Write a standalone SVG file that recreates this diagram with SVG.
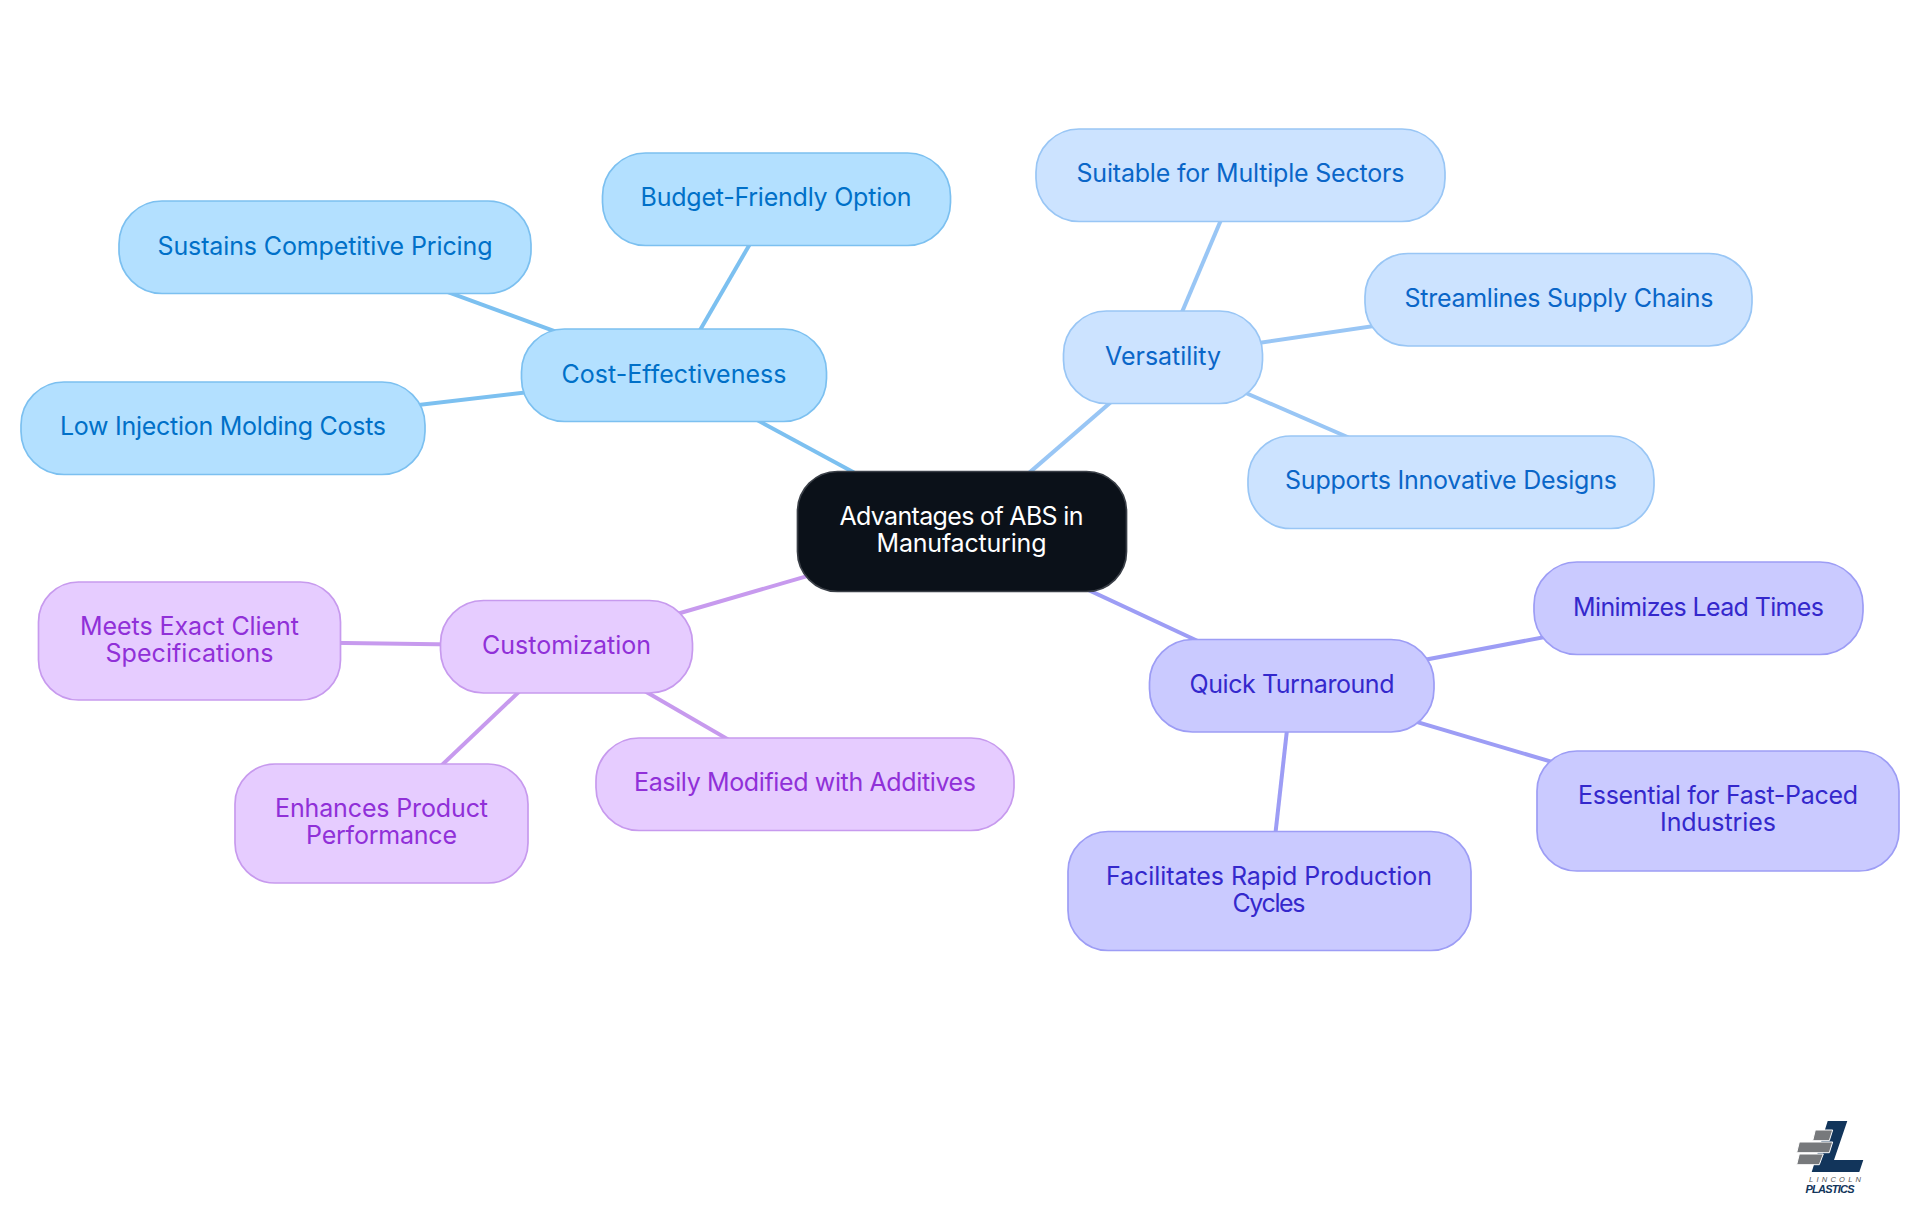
<svg xmlns="http://www.w3.org/2000/svg" width="1920" height="1215" viewBox="0 0 1920 1215">
<style>
text{font-family:"Inter","Noto Sans","Liberation Sans",sans-serif;font-size:25px;font-weight:400;text-anchor:middle}
.n rect{stroke-width:1.7}
.c line{stroke-width:4;fill:none}
.a rect{fill:#b3e0ff;stroke:#7cc0f0}.a text{fill:#0070c8}
.b rect{fill:#cce3ff;stroke:#99c6f5}.b text{fill:#0a66c8}
.q rect{fill:#cacaff;stroke:#9d9df5}.q text{fill:#3428cc}
.p rect{fill:#e6ccff;stroke:#c79aee}.p text{fill:#9030d8}
</style>
<rect width="1920" height="1215" fill="#fff"/>
<g id="connectors" class="c">
<g stroke="#7cc0f0"><line x1="962" y1="531" x2="674" y2="375"/><line x1="674" y1="375" x2="776" y2="199"/><line x1="674" y1="375" x2="325" y2="247"/><line x1="674" y1="375" x2="223" y2="428"/></g>
<g stroke="#99c6f5"><line x1="962" y1="531" x2="1163" y2="357"/><line x1="1163" y1="357" x2="1240" y2="175"/><line x1="1163" y1="357" x2="1559" y2="299"/><line x1="1163" y1="357" x2="1451" y2="482"/></g>
<g stroke="#9d9df5"><line x1="962" y1="531" x2="1292" y2="685"/><line x1="1292" y1="685" x2="1698" y2="608"/><line x1="1292" y1="685" x2="1718" y2="811"/><line x1="1292" y1="685" x2="1269" y2="891"/></g>
<g stroke="#c79aee"><line x1="962" y1="531" x2="567" y2="646"/><line x1="567" y1="646" x2="189" y2="641"/><line x1="567" y1="646" x2="381" y2="823"/><line x1="567" y1="646" x2="805" y2="784"/></g>
</g>
<g id="root" class="n"><rect x="797.5" y="471.5" width="329" height="120" rx="40" fill="#0b1119" stroke="#3a3f47"/><text x="961.5" y="525" fill="#fff" textLength="244">Advantages of ABS in</text><text x="961.5" y="552" fill="#fff" textLength="170">Manufacturing</text></g>
<g id="cost" class="n a"><rect x="521.5" y="329" width="305" height="92.5" rx="43"/><text x="674" y="382.8" textLength="225">Cost-Effectiveness</text></g>
<g id="budget" class="n a"><rect x="602.5" y="153" width="348" height="92.5" rx="43"/><text x="776" y="206.3" textLength="271">Budget-Friendly Option</text></g>
<g id="sustains" class="n a"><rect x="119" y="201" width="412" height="92.5" rx="43"/><text x="325" y="255" textLength="335">Sustains Competitive Pricing</text></g>
<g id="low" class="n a"><rect x="21" y="382" width="404" height="92.5" rx="43"/><text x="223" y="435.3" textLength="326">Low Injection Molding Costs</text></g>
<g id="versatility" class="n b"><rect x="1063.5" y="311" width="199" height="92.5" rx="43"/><text x="1163" y="365" textLength="116">Versatility</text></g>
<g id="suitable" class="n b"><rect x="1036" y="129" width="409" height="92.5" rx="43"/><text x="1240.5" y="182.3" textLength="328">Suitable for Multiple Sectors</text></g>
<g id="streamlines" class="n b"><rect x="1365" y="253.5" width="387" height="92.5" rx="43"/><text x="1559" y="307.3" textLength="309">Streamlines Supply Chains</text></g>
<g id="supports" class="n b"><rect x="1248" y="436" width="406" height="92.5" rx="43"/><text x="1451" y="488.8" textLength="332">Supports Innovative Designs</text></g>
<g id="quick" class="n q"><rect x="1149.5" y="639.5" width="284.5" height="92.5" rx="43"/><text x="1292" y="693.3" textLength="205">Quick Turnaround</text></g>
<g id="minimizes" class="n q"><rect x="1534" y="562" width="329" height="92.5" rx="43"/><text x="1698.5" y="616" textLength="251">Minimizes Lead Times</text></g>
<g id="essential" class="n q"><rect x="1537" y="751" width="362" height="120" rx="40"/><text x="1718" y="804" textLength="280">Essential for Fast-Paced</text><text x="1718" y="831" textLength="116">Industries</text></g>
<g id="facilitates" class="n q"><rect x="1068" y="831.5" width="403" height="119" rx="40"/><text x="1269" y="885" textLength="326">Facilitates Rapid Production</text><text x="1269" y="912" textLength="73">Cycles</text></g>
<g id="customization" class="n p"><rect x="440.5" y="600.5" width="252" height="92.5" rx="43"/><text x="566.5" y="654.3" textLength="169">Customization</text></g>
<g id="meets" class="n p"><rect x="38.5" y="582" width="302" height="118" rx="40"/><text x="189.5" y="635" textLength="219">Meets Exact Client</text><text x="189.5" y="662" textLength="168">Specifications</text></g>
<g id="enhances" class="n p"><rect x="235" y="764" width="293" height="119" rx="40"/><text x="381.5" y="817" textLength="213">Enhances Product</text><text x="381.5" y="844" textLength="151">Performance</text></g>
<g id="easily" class="n p"><rect x="596" y="738" width="418" height="92.5" rx="43"/><text x="805" y="791.3" textLength="342">Easily Modified with Additives</text></g>
<g id="logo">
<polygon points="1827.7,1121 1847.3,1121 1834,1160 1863.3,1160 1859.3,1172 1811.7,1172" fill="#12355b"/>
<g fill="#77797c" stroke="#fff"><polygon points="1815.3,1130 1832.7,1130 1829.3,1140.7 1812.7,1140.7"/><polygon points="1799.3,1142 1832.7,1142 1829.3,1152.7 1796.7,1152.7"/><polygon points="1799.3,1154 1823.3,1154 1819.3,1164.7 1796.7,1164.7"/></g>
<text x="1835" y="1182" textLength="52" style="font-family:'Liberation Sans',sans-serif;font-size:7.5px;font-style:italic;font-weight:400;fill:#555">LINCOLN</text>
<text x="1830" y="1192.5" textLength="49" style="font-family:'Liberation Sans',sans-serif;font-size:11px;font-style:italic;font-weight:700;fill:#12355b">PLASTICS</text>
</g>
</svg>
